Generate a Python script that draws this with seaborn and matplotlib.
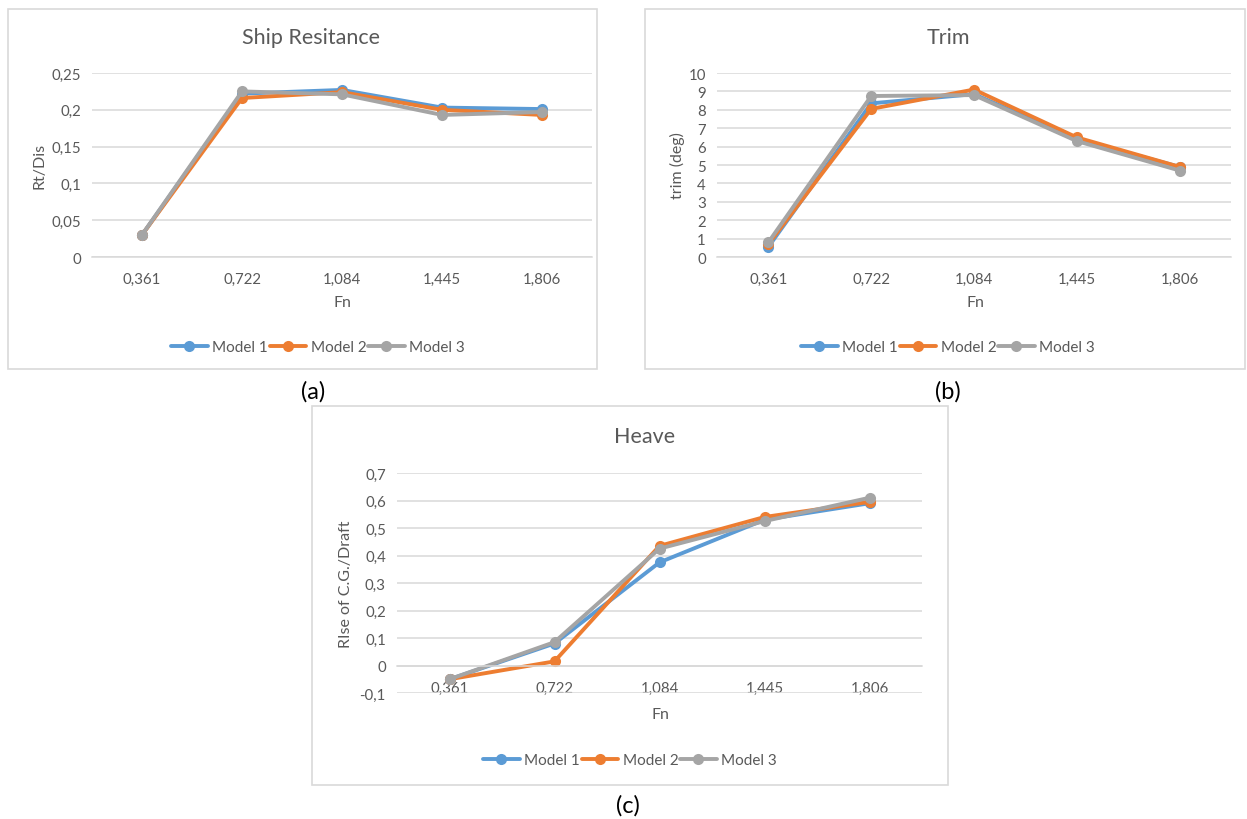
import matplotlib
matplotlib.use("Agg")
import matplotlib.pyplot as plt
from matplotlib.patches import Rectangle
from matplotlib.ticker import MultipleLocator, FuncFormatter
import seaborn as sns
import pandas as pd

# ---------------- data ----------------
fn_labels = ["0,361", "0,722", "1,084", "1,445", "1,806"]
models = ["Model 1", "Model 2", "Model 3"]

res_m1 = [0.030, 0.222, 0.227, 0.203, 0.201]
res_m2 = [0.030, 0.216, 0.224, 0.200, 0.193]
res_m3 = [0.030, 0.225, 0.221, 0.193, 0.197]

trim_m1 = [0.55, 8.35, 8.85, 6.40, 4.90]
trim_m2 = [0.70, 8.05, 9.10, 6.50, 4.90]
trim_m3 = [0.80, 8.75, 8.80, 6.30, 4.70]

heave_m1 = [-0.05, 0.080, 0.375, 0.530, 0.590]
heave_m2 = [-0.05, 0.015, 0.435, 0.540, 0.595]
heave_m3 = [-0.05, 0.085, 0.425, 0.525, 0.610]

colors = ["#5B9BD5", "#ED7D31", "#A5A5A5"]
TEXT = "#595959"
GRID = "#D9D9D9"


def long_df(s1, s2, s3):
    rows = []
    for m, s in zip(models, [s1, s2, s3]):
        for f, v in zip(fn_labels, s):
            rows.append({"Fn": f, "value": v, "Model": m})
    return pd.DataFrame(rows)


sns.set_theme(style="white")
plt.rcParams["font.family"] = ["Lato", "DejaVu Sans"]

W, H = 1247, 820
fig = plt.figure(figsize=(W / 100, H / 100), dpi=100)
fig.patch.set_facecolor("white")


def box(x0, y0, x1, y1):
    fig.patches.append(Rectangle((x0 / W, 1 - y1 / H), (x1 - x0) / W, (y1 - y0) / H,
                                 transform=fig.transFigure, fill=False,
                                 edgecolor=GRID, linewidth=1.2))


def comma_fmt(v, pos):
    s = f"{v:.2f}".rstrip("0").rstrip(".")
    if s == "-0":
        s = "0"
    return s.replace(".", ",")


def panel(l, t, r, b, df, ylim, ystep, ylabel, title, title_xy, ylab_x, xlab_xy,
          legend_xy, tag, tag_xy, zero_axis=False):
    ax = fig.add_axes([l / W, 1 - b / H, (r - l) / W, (b - t) / H])
    sns.lineplot(data=df, x="Fn", y="value", hue="Model", palette=colors,
                 marker="o", markersize=8, markeredgewidth=0, linewidth=2.8,
                 sort=False, ax=ax, legend=True)
    ax.set_xlim(-0.5, len(fn_labels) - 0.5)
    ax.set_ylim(*ylim)
    ax.yaxis.set_major_locator(MultipleLocator(ystep))
    ax.yaxis.set_major_formatter(FuncFormatter(comma_fmt))
    ax.grid(axis="y", color=GRID, linewidth=1.1)
    ax.grid(axis="x", visible=False)
    ax.set_axisbelow(True)
    for s in ["left", "right", "top"]:
        ax.spines[s].set_visible(False)
    ax.spines["bottom"].set_color(GRID)
    ax.spines["bottom"].set_linewidth(1.1)
    if zero_axis:
        ax.spines["bottom"].set_position(("data", 0))
    ax.tick_params(axis="both", length=0, labelsize=10.8, labelcolor=TEXT)
    ax.tick_params(axis="x", pad=11)
    ax.tick_params(axis="y", pad=8)
    ax.patch.set_alpha(0)

    ax.set_xlabel("")
    ax.set_ylabel("")
    fig.text(xlab_xy[0] / W, 1 - xlab_xy[1] / H, "Fn", ha="center", va="center",
             fontsize=11.5, color=TEXT)
    fig.text(ylab_x / W, 1 - ((t + b) / 2) / H, ylabel, ha="center", va="center",
             rotation=90, fontsize=11.5, color=TEXT)
    fig.text(title_xy[0] / W, 1 - title_xy[1] / H, title, ha="center", va="center",
             fontsize=15.5, color=TEXT)
    fig.text(tag_xy[0] / W, 1 - tag_xy[1] / H, tag, ha="center", va="center",
             fontsize=17, color="black")

    handles, labels = ax.get_legend_handles_labels()
    hl = [(h, lab) for h, lab in zip(handles, labels) if lab in models]
    ax.legend([h for h, _ in hl], [lab for _, lab in hl], loc="center",
              bbox_to_anchor=(legend_xy[0] / W, 1 - legend_xy[1] / H),
              bbox_transform=fig.transFigure, ncol=3, frameon=False,
              fontsize=11, labelcolor=TEXT, handlelength=2.4,
              handletextpad=0.3, columnspacing=0.1)
    return ax


# panel boxes
box(8, 10, 597, 370)
box(645, 10, 1245, 370)
box(312, 407, 948, 786)

panel(92, 74, 592, 258, long_df(res_m1, res_m2, res_m3), (0, 0.25), 0.05,
      "Rt/Dis", "Ship Resitance", (311, 38), 40, (342, 303), (318, 348),
      "(a)", (313, 392))

panel(717, 74, 1231, 258, long_df(trim_m1, trim_m2, trim_m3), (0, 10), 1,
      "trim (deg)", "Trim", (948, 38), 677, (975, 303), (948, 348),
      "(b)", (948, 392))

panel(397, 474, 922, 694, long_df(heave_m1, heave_m2, heave_m3), (-0.1, 0.7), 0.1,
      "RIse of C.G./Draft", "Heave", (645, 437), 346, (660, 715), (630, 761),
      "(c)", (628, 806), zero_axis=True)

fig.savefig("out.png", dpi=100, facecolor="white")
